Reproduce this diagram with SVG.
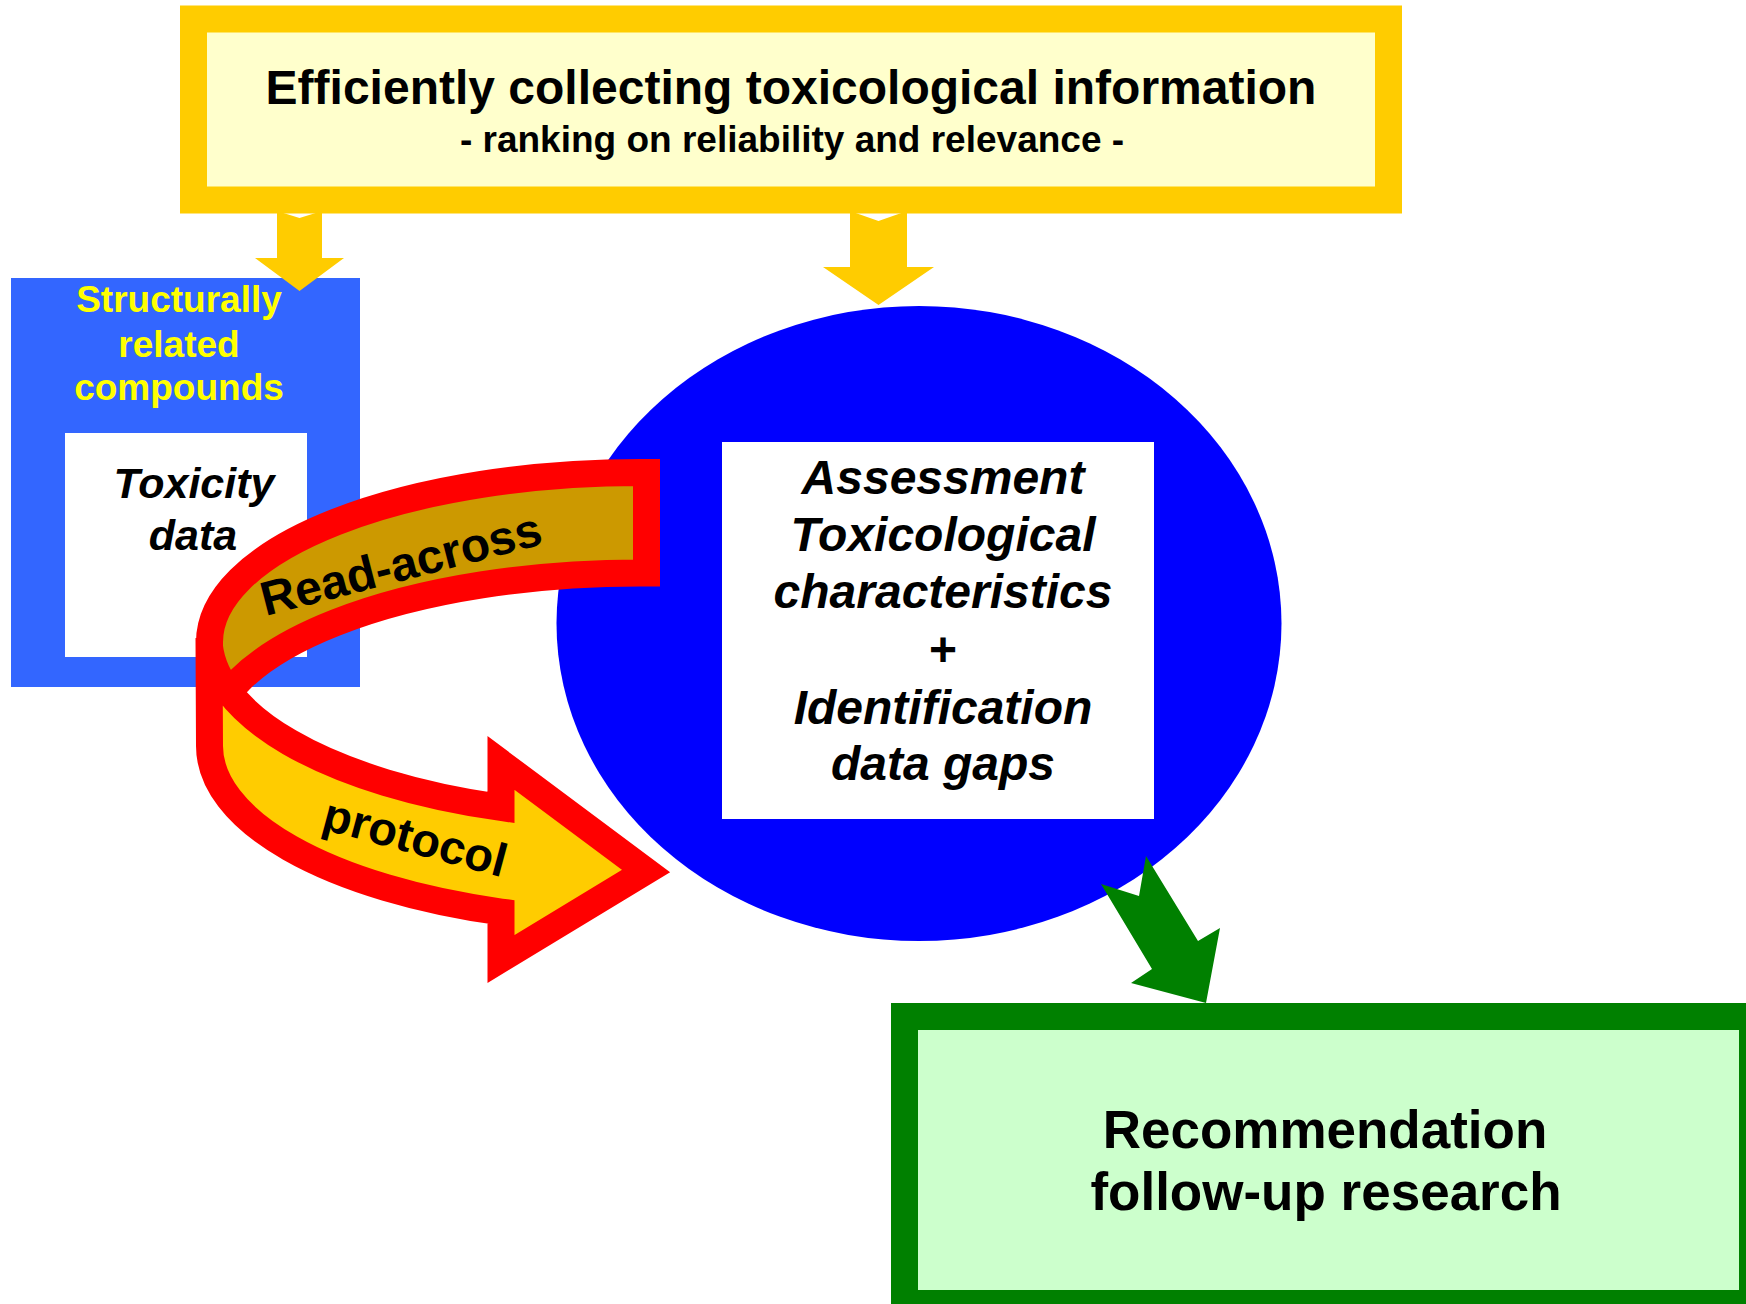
<svg xmlns="http://www.w3.org/2000/svg" width="1746" height="1304" viewBox="0 0 1746 1304">
  <style>
    text { font-family: "Liberation Sans", Arial, sans-serif; font-weight: bold; text-anchor: middle; }
    .blk { fill: #000000; }
    .it { font-style: italic; }
    .yel { fill: #FFFF00; }
    .band { stroke: #FF0000; stroke-width: 27; stroke-linejoin: miter; stroke-miterlimit: 10; }
    .yarrow { fill: #FFCC00; }
  </style>
  <rect width="1746" height="1304" fill="#FFFFFF"/>

  <g id="structurally-related">
    <rect x="11" y="278" width="349" height="409" fill="#3366FF"/>
    <text class="yel" x="179" y="312" font-size="37">Structurally</text>
    <text class="yel" x="179" y="357" font-size="37">related</text>
    <text class="yel" x="179" y="400" font-size="37">compounds</text>
  </g>
  <g id="toxicity-data">
    <rect x="65" y="433" width="242" height="224" fill="#FFFFFF"/>
    <text class="blk it" x="194" y="498" font-size="43">Toxicity</text>
    <text class="blk it" x="193" y="550" font-size="43">data</text>
  </g>

  <g id="assessment">
    <ellipse cx="919" cy="623.5" rx="362.5" ry="317.5" fill="#0000FF"/>
    <rect x="722" y="442" width="432" height="377" fill="#FFFFFF"/>
    <text class="blk it" x="943" y="494" font-size="48">Assessment</text>
    <text class="blk it" x="943" y="551" font-size="48">Toxicological</text>
    <text class="blk it" x="943" y="608" font-size="48">characteristics</text>
    <text class="blk" x="943" y="666" font-size="48">+</text>
    <text class="blk it" x="943" y="724" font-size="48">Identification</text>
    <text class="blk it" x="943" y="780" font-size="48">data gaps</text>
  </g>

  <g id="collecting">
    <rect x="193.5" y="19" width="1195" height="181" fill="#FFFFCC" stroke="#FFCC00" stroke-width="27"/>
    <text class="blk" x="791" y="104" font-size="48">Efficiently collecting toxicological information</text>
    <text class="blk" x="792" y="152" font-size="37">- ranking on reliability and relevance -</text>
  </g>

  <g id="recommendation">
    <rect x="904.5" y="1016.5" width="848" height="287" fill="#CCFFCC" stroke="#008000" stroke-width="27"/>
    <text class="blk" x="1325" y="1148" font-size="53">Recommendation</text>
    <text class="blk" x="1326" y="1210" font-size="53">follow-up research</text>
  </g>

  <g id="connectors">
    <polygon class="yarrow" points="277,211 299.5,218 322,211 322,258 344,258 299.5,291 255,258 277,258"/>
    <polygon class="yarrow" points="850,211 878.5,221 907,211 907,267 934,267 878.5,305 823,267 850,267"/>
    <g id="read-across">
      <path class="band" fill="#CC9900" d="M 646.5 472.5 L 640 472.5 A 430.5 169.5 0 0 0 209.5 642 L 209.5 742.5 A 430.5 169.5 0 0 1 640 573 L 646.5 573 Z"/>
      <text class="blk" font-size="48" transform="translate(405 580) rotate(-14.5)" x="0" y="0">Read-across</text>
    </g>
    <g id="protocol">
      <path class="band" fill="#FFCC00" d="M 209 638 A 431 179 0 0 0 501 807.5 L 501 763 L 646 871 L 501 959 L 501 912 A 431.5 175.5 0 0 1 209.5 746 Z"/>
      <text class="blk" font-size="47" transform="translate(411 853) rotate(15)" x="0" y="0">protocol</text>
    </g>
    <polygon fill="#008000" points="1206,1003 1220,928 1198,941 1146,856 1139,896 1101,884 1152,969 1131,983"/>
  </g>
</svg>
